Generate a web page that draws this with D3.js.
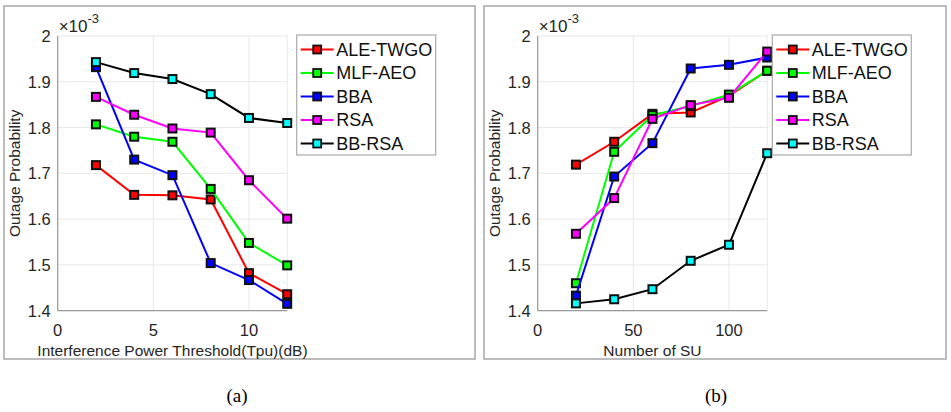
<!DOCTYPE html>
<html>
<head>
<meta charset="utf-8">
<script src="https://cdn.jsdelivr.net/npm/d3@7"></script>
<style>
  body { margin: 0; background: #fff; }
  svg { display: block; }
</style>
</head>
<body>
<svg></svg>
<script>
// values are in units of 1e-3
const seriesNames = ["ALE-TWGO", "MLF-AEO", "BBA", "RSA", "BB-RSA"];
const thresholdX = [2, 4, 6, 8, 10, 12];
const suX = [20, 40, 60, 80, 100, 120];

const thrAle = [1.718, 1.653, 1.652, 1.643, 1.482, 1.436];
const thrMlf = [1.807, 1.780, 1.769, 1.666, 1.548, 1.499];
const thrBba = [1.932, 1.730, 1.696, 1.504, 1.467, 1.415];
const thrRsa = [1.867, 1.828, 1.798, 1.789, 1.685, 1.601];
const thrBbRsa = [1.943, 1.919, 1.906, 1.873, 1.821, 1.810];

const suAle = [1.719, 1.769, 1.830, 1.833, 1.869, 1.924];
const suMlf = [1.460, 1.747, 1.827, 1.847, 1.872, 1.924];
const suBba = [1.433, 1.693, 1.766, 1.929, 1.937, 1.953];
const suRsa = [1.568, 1.646, 1.819, 1.849, 1.865, 1.966];
const suBbRsa = [1.416, 1.425, 1.447, 1.509, 1.544, 1.744];

const yTicks = [1.4, 1.5, 1.6, 1.7, 1.8, 1.9, 2];
const thrTicks = [0, 5, 10];
const suTicks = [0, 50, 100];

const lineColors = ["#ff0000", "#00ff00", "#0000ff", "#ff00ff", "#000000"];
const markerColors = ["#ff0000", "#00ff00", "#0000ff", "#ff00ff", "#00ffff"];

const svg = d3.select("svg")
              .attr("width", 951)
              .attr("height", 412);

const y = d3.scaleLinear().domain([1.4, 2.0]).range([310.7, 36]);

function drawPanel(p) {
  const g = svg.append("g");
  const x = d3.scaleLinear().domain(p.xDomain).range([p.left, p.left + 229.5]);

  // frame round the panel
  g.append("rect")
   .attr("x", p.frame[0]).attr("y", p.frame[1])
   .attr("width", p.frame[2]).attr("height", p.frame[3])
   .attr("fill", "none").attr("stroke", "#a6a6a6").attr("stroke-width", 1.5);

  // grid
  g.selectAll(".gx").data(p.xTicks).enter().append("line")
   .attr("x1", d => x(d)).attr("x2", d => x(d))
   .attr("y1", y(1.4)).attr("y2", y(2.0))
   .attr("stroke", "#e8e8e8").attr("stroke-width", 1);
  g.append("line")
   .attr("x1", x(p.xDomain[1])).attr("x2", x(p.xDomain[1]))
   .attr("y1", y(1.4)).attr("y2", y(2.0))
   .attr("stroke", "#e8e8e8").attr("stroke-width", 1);
  g.selectAll(".gy").data(yTicks).enter().append("line")
   .attr("x1", x.range()[0]).attr("x2", x.range()[1])
   .attr("y1", d => y(d)).attr("y2", d => y(d))
   .attr("stroke", "#e8e8e8").attr("stroke-width", 1);

  // axes lines
  g.append("line")
   .attr("x1", x.range()[0]).attr("x2", x.range()[0])
   .attr("y1", y(1.4)).attr("y2", y(2.0))
   .attr("stroke", "#9a9a9a").attr("stroke-width", 1.2);
  g.append("line")
   .attr("x1", x.range()[0]).attr("x2", x.range()[1])
   .attr("y1", y(1.4)).attr("y2", y(1.4))
   .attr("stroke", "#9a9a9a").attr("stroke-width", 1.2);

  // tick labels
  g.selectAll(".ty").data(yTicks).enter().append("text")
   .attr("x", x.range()[0] - 7).attr("y", d => y(d)).attr("dy", "0.36em")
   .attr("text-anchor", "end")
   .style("font", "16.5px 'Liberation Sans', Arial, sans-serif").attr("fill", "#262626")
   .text(d => d === 2 ? "2" : d.toFixed(1));
  g.selectAll(".tx").data(p.xTicks).enter().append("text")
   .attr("x", d => x(d)).attr("y", 336)
   .attr("text-anchor", "middle")
   .style("font", "16.5px 'Liberation Sans', Arial, sans-serif").attr("fill", "#262626")
   .text(d => d);

  // exponent
  const ex = g.append("text")
   .attr("x", x.range()[0] + 1).attr("y", 31.5)
   .style("font", "17px 'Liberation Sans', Arial, sans-serif").attr("fill", "#262626");
  ex.append("tspan").text("×10");
  ex.append("tspan").attr("dy", -9).style("font-size", "13px").text("-3");

  // axis titles
  g.append("text")
   .attr("x", (x.range()[0] + x.range()[1]) / 2).attr("y", 356)
   .attr("text-anchor", "middle")
   .style("font", "15.5px 'Liberation Sans', Arial, sans-serif").attr("fill", "#262626")
   .text(p.xLabel);
  g.append("text")
   .attr("transform", `translate(${p.frame[0] + 16},${(y(1.4) + y(2.0)) / 2}) rotate(-90)`)
   .attr("text-anchor", "middle")
   .style("font", "15.5px 'Liberation Sans', Arial, sans-serif").attr("fill", "#262626")
   .text("Outage Probability");

  // series
  const line = d3.line().x(d => x(d[0])).y(d => y(d[1]));
  p.series.forEach((vals, i) => {
    const pts = p.xs.map((xv, j) => [xv, vals[j]]);
    g.append("path")
     .attr("d", line(pts))
     .attr("fill", "none").attr("stroke", lineColors[i]).attr("stroke-width", 2);
    g.selectAll(".m" + i).data(pts).enter().append("rect")
     .attr("x", d => x(d[0]) - 4).attr("y", d => y(d[1]) - 4)
     .attr("width", 8).attr("height", 8)
     .attr("fill", markerColors[i]).attr("stroke", "#111").attr("stroke-width", 2);
  });

  // legend
  const lg = g.append("g").attr("transform", `translate(${p.legend[0]},${p.legend[1]})`);
  lg.append("rect").attr("width", 139).attr("height", 120)
    .attr("fill", "#fff").attr("stroke", "#aaaaaa").attr("stroke-width", 1.2);
  seriesNames.forEach((name, i) => {
    const ly = 14.5 + i * 23.5;
    lg.append("line").attr("x1", 4).attr("x2", 37).attr("y1", ly).attr("y2", ly)
      .attr("stroke", lineColors[i]).attr("stroke-width", 2);
    lg.append("rect").attr("x", 20.5 - 4).attr("y", ly - 4).attr("width", 8).attr("height", 8)
      .attr("fill", markerColors[i]).attr("stroke", "#111").attr("stroke-width", 1.8);
    lg.append("text").attr("x", 39.5).attr("y", ly).attr("dy", "0.36em")
      .style("font", "18px 'Liberation Sans', Arial, sans-serif").attr("fill", "#111")
      .text(name);
  });

  // panel caption
  svg.append("text")
     .attr("x", p.caption).attr("y", 402)
     .attr("text-anchor", "middle")
     .style("font", "19px 'Liberation Serif', 'Times New Roman', serif").attr("fill", "#000")
     .text(p.captionText);
}

drawPanel({
  frame: [4, 6, 471, 353],
  left: 57.7,
  xDomain: [0, 12],
  xTicks: thrTicks,
  xs: thresholdX,
  series: [thrAle, thrMlf, thrBba, thrRsa, thrBbRsa],
  xLabel: "Interference Power Threshold(Tpu)(dB)",
  legend: [296.7, 35],
  caption: 237,
  captionText: "(a)"
});

drawPanel({
  frame: [484, 6, 462, 353],
  left: 537.7,
  xDomain: [0, 120],
  xTicks: suTicks,
  xs: suX,
  series: [suAle, suMlf, suBba, suRsa, suBbRsa],
  xLabel: "Number of SU",
  legend: [772.3, 35],
  caption: 716,
  captionText: "(b)"
});
</script>
</body>
</html>
